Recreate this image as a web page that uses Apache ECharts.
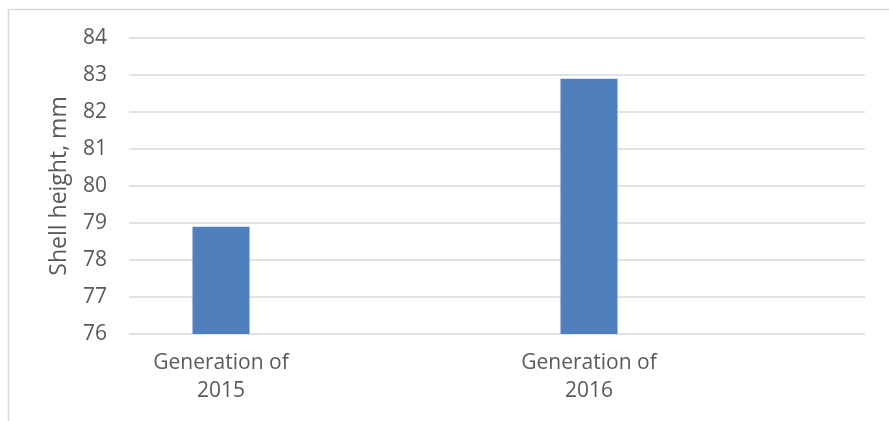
<!DOCTYPE html>
<html>
<head>
<meta charset="utf-8">
<script src="https://cdn.jsdelivr.net/npm/echarts@6/dist/echarts.min.js"></script>
<style>
html,body{margin:0;padding:0;background:#fff;}
#chart{width:889px;height:421px;}
</style>
</head>
<body>
<div id="chart"></div>
<script>
// Data
var categories = ["Generation of\n2015", "Generation of\n2016"];
var shellHeight = [78.9, 82.9];
var yTicks = [76, 77, 78, 79, 80, 81, 82, 83, 84];
var yAxisTitle = "Shell height, mm";

// Each category occupies a slot followed by an empty slot (as in the reference layout)
var xData = [];
var barData = [];
for (var i = 0; i < categories.length; i++) {
  xData.push(categories[i]); barData.push(shellHeight[i]);
  xData.push(''); barData.push(null);
}

var chart = echarts.init(document.getElementById('chart'), null, {renderer: 'canvas'});
var font = 'Open Sans';
chart.setOption({
  backgroundColor: '#fff',
  animation: false,
  graphic: [{
    type: 'polyline',
    shape: {points: [[8.5, 421], [8.5, 9.5], [889, 9.5]]},
    style: {stroke: '#d9d9d9', lineWidth: 1.5, fill: null},
    silent: true
  }],
  grid: {left: 129, right: 24, top: 38, bottom: 87, containLabel: false},
  xAxis: {
    type: 'category',
    data: xData,
    boundaryGap: true,
    axisLine: {show: false},
    axisTick: {show: false},
    axisLabel: {
      interval: 0,
      margin: 15,
      color: '#595959',
      fontFamily: font,
      fontSize: 21,
      lineHeight: 28,
      align: 'center'
    }
  },
  yAxis: {
    type: 'value',
    min: yTicks[0],
    max: yTicks[yTicks.length - 1],
    interval: 1,
    name: yAxisTitle,
    nameLocation: 'middle',
    nameGap: 58,
    nameRotate: 90,
    nameTextStyle: {color: '#595959', fontFamily: font, fontSize: 23},
    axisLine: {show: false},
    axisTick: {show: false},
    axisLabel: {color: '#595959', fontFamily: font, fontSize: 21, margin: 22},
    splitLine: {lineStyle: {color: '#d9d9d9', width: 1.5}}
  },
  series: [{
    type: 'bar',
    data: barData,
    barWidth: 57,
    itemStyle: {color: '#4f7fbc'}
  }]
});
</script>
</body>
</html>
